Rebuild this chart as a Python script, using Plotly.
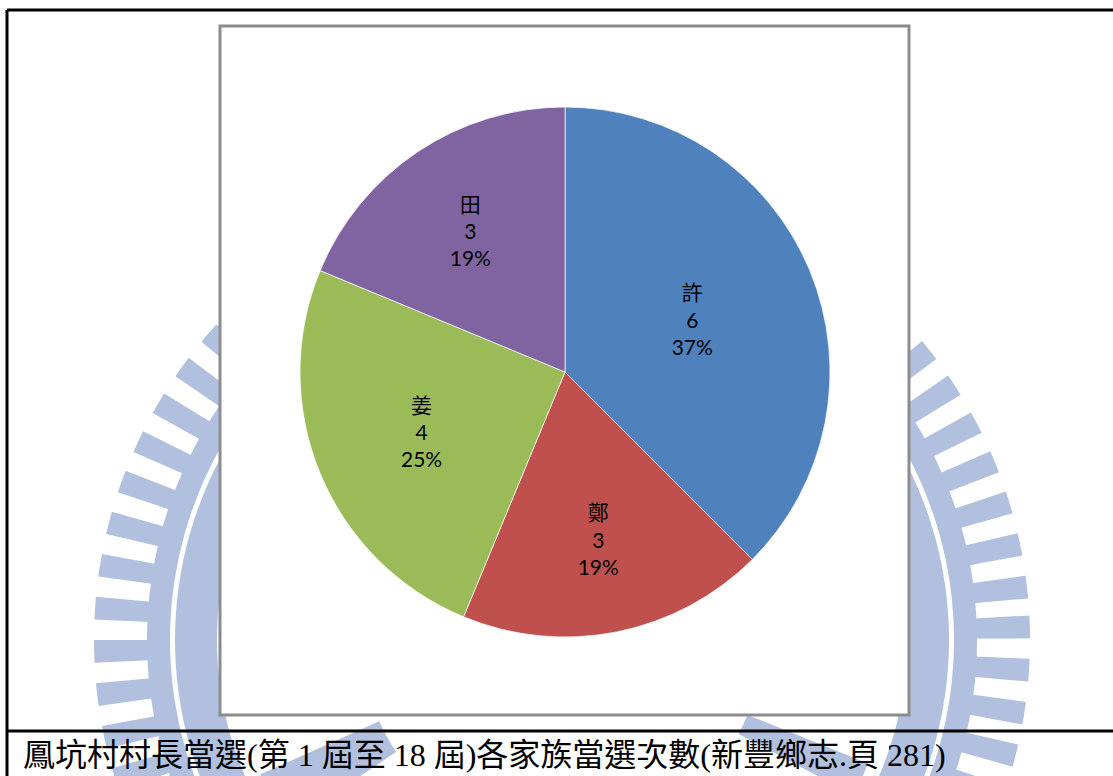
import math
import plotly.graph_objects as go

# ---- data ----
families = ["許", "鄭", "姜", "田"]
counts = [6, 3, 4, 3]
pct_labels = ["37%", "19%", "25%", "19%"]
colors = ["#4F81BD", "#C0504D", "#9BBB59", "#8064A2"]
caption = "鳳坑村村長當選(第 1 屆至 18 屆)各家族當選次數(新豐鄉志.頁 281)"

W, H = 1113, 776


def px(x):
    return x / W


def py(y):
    return 1 - y / H


fig = go.Figure()

fig.add_trace(go.Pie(
    labels=families,
    values=counts,
    customdata=pct_labels,
    texttemplate="%{label}<br>%{value}<br>%{customdata}",
    textposition="inside",
    insidetextorientation="horizontal",
    textfont=dict(family="Lato, Noto Sans CJK TC", size=21, color="#000000"),
    marker=dict(colors=colors, line=dict(color="rgba(255,255,255,0.7)", width=1)),
    sort=False,
    direction="clockwise",
    rotation=0,
    hoverinfo="label+value+percent",
    showlegend=False,
    domain=dict(x=[px(300), px(830)], y=[py(637), py(107)]),
))

shapes = []
wm = "rgba(176,192,222,1)"
cx, cy = 562, 640


def arc_pts(r, a0, a1, n=40):
    pts = []
    for i in range(n + 1):
        a = a0 + (a1 - a0) * i / n
        pts.append((cx + r * math.cos(a), cy + r * math.sin(a)))
    return pts


def path_from(pts):
    s = "M " + " L ".join(f"{px(x):.5f},{py(y):.5f}" for x, y in pts) + " Z"
    return s


def wedge(r1, r2, a0, a1):
    return arc_pts(r2, a0, a1, 12) + arc_pts(r1, a1, a0, 12)


# watermark teeth
period = math.radians(5.3)
tw = math.radians(2.8)
a = math.radians(-3)
while a < 2 * math.pi - math.radians(3):
    shapes.append(dict(type="path", path=path_from(wedge(413, 468, a, a + tw)),
                       xref="paper", yref="paper",
                       fillcolor=wm, line=dict(width=0), layer="below"))
    a += period

# outer band and inner band (annuli)
for r_in, r_out in [(392, 415), (345, 387)]:
    outer = arc_pts(r_out, 0, 2 * math.pi, 180)
    inner = arc_pts(r_in, 2 * math.pi, 0, 180)
    shapes.append(dict(type="path", path=path_from(outer + inner), xref="paper", yref="paper",
                       fillcolor=wm, line=dict(width=0), layer="below"))

# inner emblem strokes (partly visible below the chart box)
for a0, a1 in [(146, 156), (50, 62), (22, 28)]:
    shapes.append(dict(type="path",
                       path=path_from(wedge(200, 330, math.radians(a0), math.radians(a1))),
                       xref="paper", yref="paper",
                       fillcolor=wm, line=dict(width=0), layer="below"))

# chart box
shapes.append(dict(type="rect", xref="paper", yref="paper",
                   x0=px(220), x1=px(909), y0=py(715), y1=py(26),
                   fillcolor="white", line=dict(color="#8C8C8C", width=3), layer="below"))

# document table borders
for (x0, y0, x1, y1) in [(7, 10, W + 5, 10), (7, 10, 7, H + 5), (7, 731, W + 5, 731)]:
    shapes.append(dict(type="line", xref="paper", yref="paper",
                       x0=px(x0), y0=py(y0), x1=px(x1), y1=py(y1),
                       line=dict(color="black", width=3), layer="above"))

fig.update_layout(
    width=W, height=H,
    margin=dict(l=0, r=0, t=0, b=0),
    paper_bgcolor="white",
    plot_bgcolor="white",
    shapes=shapes,
    uniformtext=dict(minsize=21, mode="show"),
    annotations=[dict(
        text=caption, xref="paper", yref="paper",
        x=px(21), y=py(755), xanchor="left", yanchor="middle",
        showarrow=False,
        font=dict(family="Liberation Serif, Noto Sans CJK TC", size=32, color="black"),
    )],
)

fig.write_html(
    "out.html",
    config={"displayModeBar": False},
    post_script="document.body.style.margin='0';document.body.style.padding='0';document.body.style.overflow='hidden';",
)
